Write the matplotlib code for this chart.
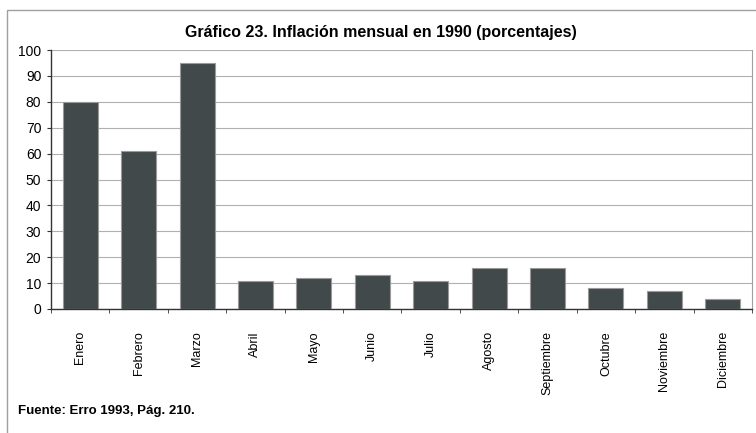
import matplotlib
matplotlib.use("Agg")
import matplotlib.pyplot as plt
from matplotlib.patches import Rectangle

months = ["Enero", "Febrero", "Marzo", "Abril", "Mayo", "Junio", "Julio",
          "Agosto", "Septiembre", "Octubre", "Noviembre", "Diciembre"]
inflation = [80, 61, 95, 11, 12, 13, 11, 16, 16, 8, 7, 4]
yticks = list(range(0, 101, 10))

plt.rcParams['font.family'] = ['Liberation Sans', 'DejaVu Sans']

fig = plt.figure(figsize=(7.56, 4.33), dpi=100)
fig.patches.append(Rectangle((7/756, -0.1), 1.2, 1 - 10/433 + 0.1, transform=fig.transFigure,
                             fill=False, edgecolor='#a0a0a0', linewidth=1.0))
ax = fig.add_axes([51/756, 1 - 309/433, (752 - 51)/756, (309 - 50)/433])

x = list(range(len(months)))
ax.bar(x, inflation, width=0.6, color='#42494b', edgecolor='#9a9a9a', linewidth=0.8, zorder=3)
ax.set_xlim(-0.5, len(months) - 0.5)
ax.set_ylim(0, 100)
ax.set_yticks(yticks)
ax.set_yticklabels([str(v) for v in yticks], fontsize=10)
ax.yaxis.grid(True, color='#b0b0b0', linewidth=0.8, zorder=0)

ax.set_xticks(x)
ax.set_xticklabels(months, rotation=90, fontsize=9, va='top')
ax.tick_params(axis='x', which='major', length=0, pad=16)
ax.set_xticks([i - 0.5 for i in range(len(months) + 1)], minor=True)
ax.tick_params(axis='x', which='minor', length=3, direction='out', color='#333333')
ax.tick_params(axis='y', length=3, color='#333333', pad=4)

for s in ['left', 'bottom']:
    ax.spines[s].set_color('#333333')
    ax.spines[s].set_linewidth(1.0)
ax.spines['top'].set_visible(False)
ax.spines['right'].set_color('#a0a0a0')

fig.text(381/756, 1 - 33/433, "Gráfico 23. Inflación mensual en 1990 (porcentajes)",
         ha='center', va='center', fontsize=11.5, fontweight='bold')
fig.text(18/756, 1 - 411/433, "Fuente: Erro 1993, Pág. 210.",
         ha='left', va='center', fontsize=9.5, fontweight='bold')

fig.savefig("out.png", dpi=100)
